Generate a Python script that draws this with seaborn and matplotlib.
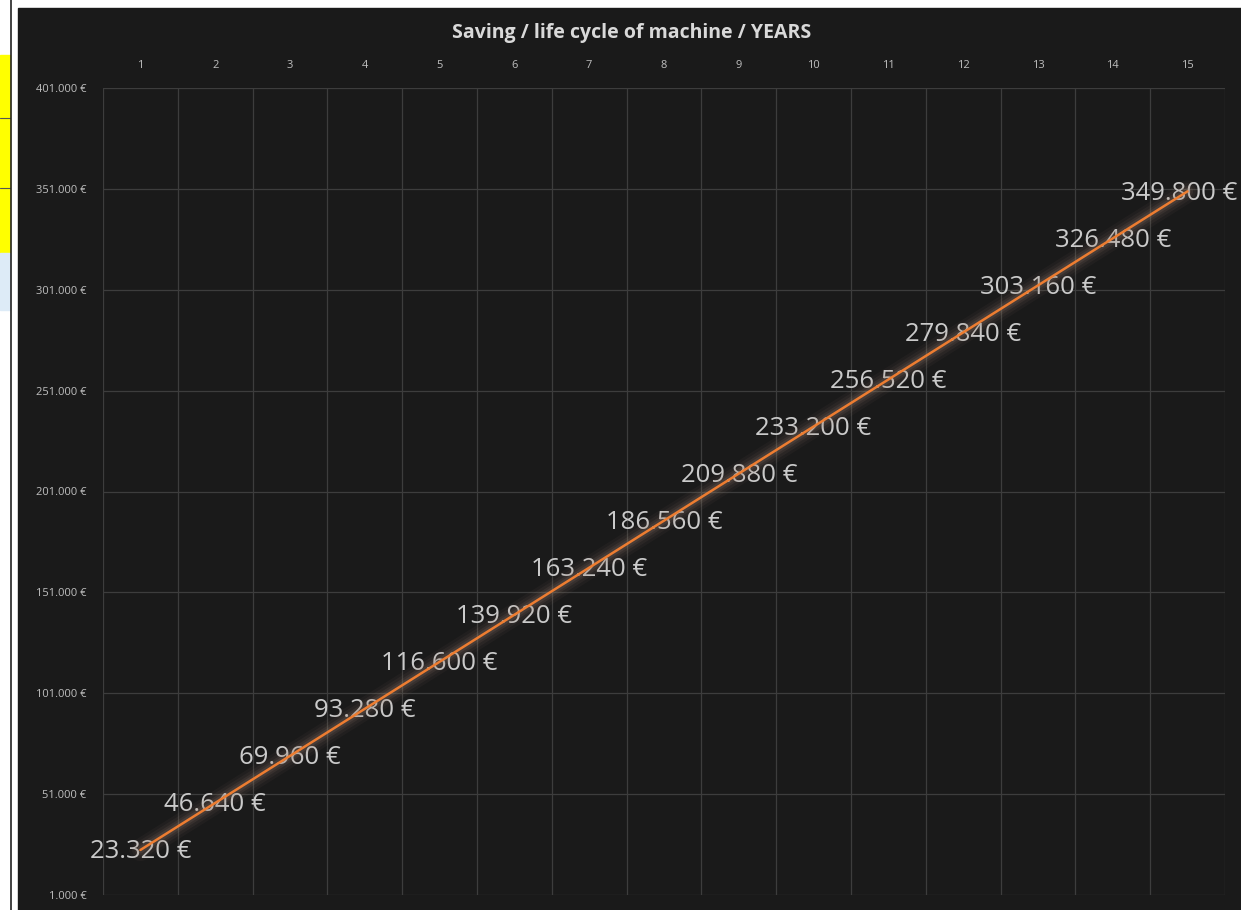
import numpy as np
import pandas as pd
import matplotlib
matplotlib.use("Agg")
import matplotlib.pyplot as plt
import matplotlib.patheffects as pe
import matplotlib.transforms as mtransforms
from matplotlib.patches import Rectangle
from matplotlib.ticker import FuncFormatter, MultipleLocator
import seaborn as sns

years = [1, 2, 3, 4, 5, 6, 7, 8, 9, 10, 11, 12, 13, 14, 15]
saving = [23320, 46640, 69960, 93280, 116600, 139920, 163240, 186560,
          209880, 233200, 256520, 279840, 303160, 326480, 349800]
title = "Saving / life cycle of machine / YEARS"

df = pd.DataFrame({"year": years, "saving": saving})

sns.set_style("dark")
plt.rcParams['font.family'] = ['Open Sans', 'DejaVu Sans']

BG = '#1a1a1a'
GRID = '#3d3d3d'
TXT = '#bfbfbf'

fig = plt.figure(figsize=(12.41, 9.10), dpi=100)
fig.patch.set_facecolor('white')

# screenshot frame: dark chart area, sheet cells peeking in at the left
fig.patches.append(Rectangle((18 / 1241, 0), 1 - 18 / 1241, 1 - 8 / 910,
                             transform=fig.transFigure, color=BG, zorder=0))
fig.patches.append(Rectangle((0, 1 - 253 / 910), 10 / 1241, 198 / 910,
                             transform=fig.transFigure, color='#ffff00', zorder=0))
fig.patches.append(Rectangle((0, 1 - 310 / 910), 10 / 1241, 57 / 910,
                             transform=fig.transFigure, color='#ddebf7', zorder=0))
for yy in [118, 188]:
    fig.lines.append(plt.Line2D([0, 10 / 1241], [1 - yy / 910] * 2,
                                transform=fig.transFigure, color='#555555', lw=0.8))
fig.lines.append(plt.Line2D([10.5 / 1241] * 2, [0, 1], transform=fig.transFigure,
                            color='#222222', lw=1.2))

ax = fig.add_axes([103 / 1241, 15 / 910, 1122 / 1241, 807 / 910])
ax.set_zorder(2)
ax.set_facecolor(BG)

# thin orange line with a soft glow, drawn over the labels
glow = [pe.Stroke(linewidth=w, foreground='#9a8070', alpha=a)
        for w, a in [(16, 0.06), (12, 0.08), (8, 0.12), (5, 0.16)]]
sns.lineplot(data=df, x="year", y="saving", ax=ax, color='#ed7d31', lw=1.8,
             zorder=6, path_effects=glow + [pe.Normal()])

for i, (x, y) in enumerate(zip(years, saving)):
    # Excel nudges the last label inward so it stays inside the chart
    dx = -8 / 100 if i == len(years) - 1 else 0
    off = mtransforms.ScaledTranslation(dx, -2 / 100, fig.dpi_scale_trans)
    ax.text(x, y, f"{y:,.0f} €".replace(",", "."), ha='center', va='center',
            fontsize=18.5, color='#cacaca', zorder=5, clip_on=False,
            transform=ax.transData + off)

ax.set_xlim(0.5, 15.5)
ax.set_ylim(1000, 401000)
ax.xaxis.set_major_locator(MultipleLocator(1))
ax.xaxis.set_minor_locator(MultipleLocator(1, offset=0.5))
ax.set_yticks(np.arange(1000, 401001, 50000))
ax.yaxis.set_major_formatter(FuncFormatter(lambda v, p: f"{v:,.0f} €".replace(",", ".")))
ax.xaxis.tick_top()
ax.tick_params(axis='x', which='major', length=0, labelsize=8, colors=TXT, pad=12)
ax.tick_params(axis='x', which='minor', length=0)
ax.tick_params(axis='y', length=0, labelsize=8, colors=TXT, pad=12)
ax.grid(False)
ax.grid(True, axis='x', which='minor', color=GRID, lw=0.9)
ax.grid(True, axis='y', which='major', color=GRID, lw=0.9)
for s in ax.spines.values():
    s.set_visible(False)
ax.set_xlabel("")
ax.set_ylabel("")

fig.text(632 / 1241, 1 - 33 / 910, title, ha='center', va='center',
         fontsize=14, fontweight='bold', color='#d9d9d9')

fig.savefig("out.png", dpi=100, facecolor=fig.get_facecolor())
